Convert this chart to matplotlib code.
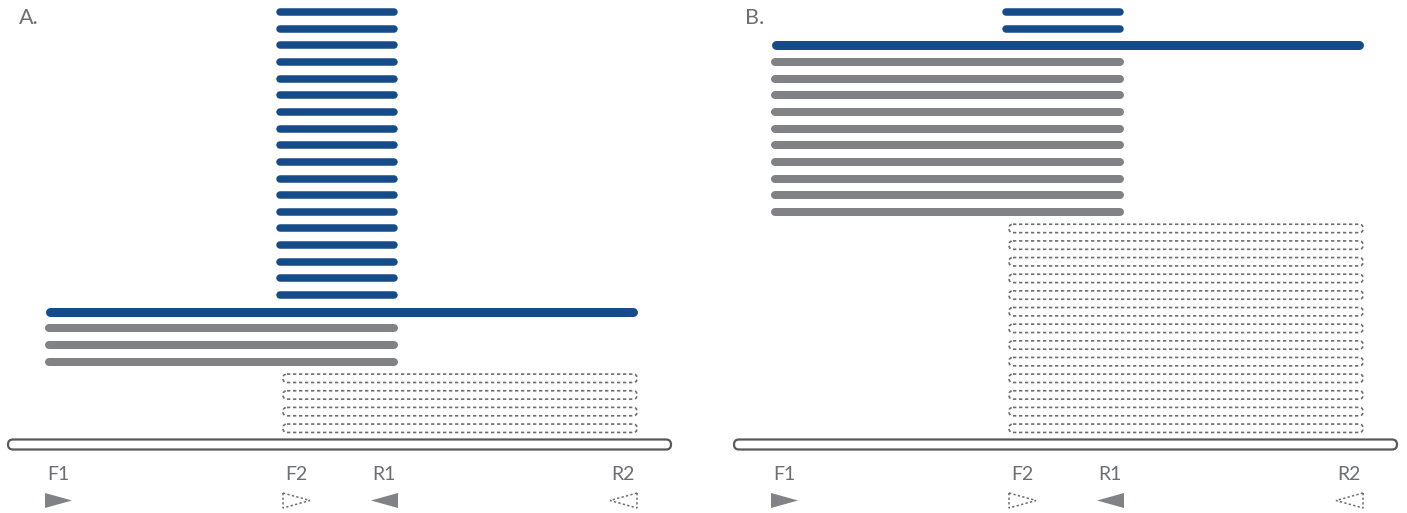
import matplotlib
matplotlib.use("Agg")
import matplotlib.pyplot as plt
from matplotlib.patches import FancyBboxPatch, Polygon

# panel labels and horizontal offset of each panel (pixels)
panel_labels = ["A.", "B."]
panel_offsets = [0, 726]

# primers along the template (position in template units, direction, nested = dashed)
primer_names = ["F1", "F2", "R1", "R2"]
primer_pos = [45, 283, 398, 637]
primer_dir = [1, 1, -1, -1]
primer_nested = [False, True, False, True]

# template strand extent
template_span = (8, 671)

# product types: (start, end)
product_names = ["inner", "outer", "F1-R1", "F2-R2"]
product_spans = [(276, 398), (45, 637), (45, 398), (283, 637)]

# number of copies of each product in each panel (stacked top to bottom)
counts_A = [18, 1, 3, 4]
counts_B = [2, 1, 10, 13]
panel_counts = [counts_A, counts_B]

BLUE = "#154b89"
GREY = "#808285"
DARK = "#6d6e71"
OUTLINE = "#58595b"

fig = plt.figure(figsize=(14.07, 5.13), dpi=100)
ax = fig.add_axes([0, 0, 1, 1])
ax.set_xlim(0, 1407)
ax.set_ylim(513, 0)
ax.axis("off")

row0, dy = 12, 16.65
px = 0.72  # points per pixel

for label, off, counts in zip(panel_labels, panel_offsets, panel_counts):
    ax.text(off + 19, 18, label, fontsize=15.5, color=DARK, family="Lato",
            va="center", ha="left")
    row = 0
    for name, (s, e), n in zip(product_names, product_spans, counts):
        for k in range(n):
            y = row0 + dy * row
            if name == "F2-R2":
                box = FancyBboxPatch((off + s, y - 4.2), e - s, 8.4,
                                     boxstyle="round,pad=0,rounding_size=4",
                                     fc="none", ec=DARK, lw=1.2,
                                     linestyle=(0, (2.0, 1.6)))
                ax.add_patch(box)
            else:
                col = GREY if name == "F1-R1" else BLUE
                lw = {"inner": 7.5, "outer": 9.0, "F1-R1": 8.0}[name]
                ax.plot([off + s + lw / 2, off + e - lw / 2], [y, y], color=col,
                        lw=lw * px, solid_capstyle="round")
            row += 1

    # template
    t0, t1 = template_span
    ax.add_patch(FancyBboxPatch((off + t0, 439.5), t1 - t0, 10,
                                boxstyle="round,pad=0,rounding_size=5",
                                fc="white", ec=OUTLINE, lw=1.6))

    # primers
    for pname, p, d, nested in zip(primer_names, primer_pos, primer_dir, primer_nested):
        x = off + p
        ty = 500.5
        pts = [(x, ty - 7.5), (x, ty + 7.5), (x + 27 * d, ty)]
        if nested:
            ax.add_patch(Polygon(pts, closed=True, fc="none", ec=DARK, lw=1.1,
                                 linestyle=(0, (1.5, 1.5))))
        else:
            ax.add_patch(Polygon(pts, closed=True, fc=GREY, ec="none"))
        ax.text(x + 2 * d, 475, pname, fontsize=14, color=DARK, family="Lato",
                va="center", ha="left" if d > 0 else "right")

fig.savefig("out.png", dpi=100)
